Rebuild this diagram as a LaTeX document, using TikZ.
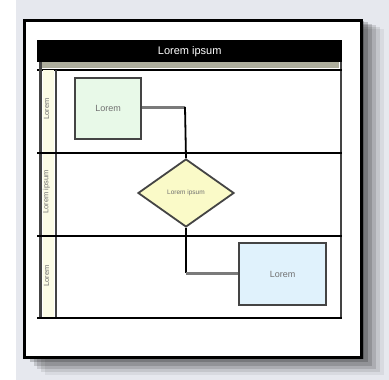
\documentclass[tikz,border=0pt]{standalone}
\usepackage{fontspec}
\setmainfont{Liberation Sans}
\usetikzlibrary{shapes.geometric}
\definecolor{pagebg}{HTML}{E6E8EE}
\definecolor{bandgray}{HTML}{ADAD9C}
\definecolor{cream}{HTML}{FCFCE6}
\definecolor{greenfill}{HTML}{E8F9E8}
\definecolor{yellowfill}{HTML}{FAFAC8}
\definecolor{bluefill}{HTML}{E0F2FC}
\definecolor{edgegray}{HTML}{444444}
\definecolor{linkgray}{HTML}{7A7A7A}
\definecolor{labelgray}{HTML}{707070}
\tikzset{
  procbox/.style={draw=edgegray, line width=2.2pt, inner sep=0pt},
  decision/.style={diamond, draw=edgegray, line width=1.8pt, fill=yellowfill, inner sep=0pt, aspect=1.4},
  boxtext/.style={font=\fontsize{9}{10}\selectfont, text=labelgray},
  lanetext/.style={font=\fontsize{7.5}{8}\selectfont, text=labelgray, rotate=90},
  lanerule/.style={line width=2.2pt, black},
  graylink/.style={line width=3pt, linkgray},
  blacklink/.style={line width=1.8pt, black}
}
\begin{document}
\begin{tikzpicture}[x=1pt, y=-1pt]
  \useasboundingbox (0,0) rectangle (389,380);
  % page background
  \fill[white] (0,0) rectangle (389,380);
  \fill[pagebg] (16,0) rectangle (389,380);
  % soft drop shadow of the sheet
  \foreach \d/\o in {24/0.06,20/0.09,16/0.12,12/0.15,8/0.18,4/0.22}{
    \fill[black, opacity=\o] (23+\d*0.9,19+\d*0.4) rectangle (360+\d,356+\d*0.8);
  }
  % sheet
  \node[draw=black, line width=3pt, fill=white, minimum width=337pt, minimum height=337pt, inner sep=0pt, anchor=north west] (sheet) at (23,19) {};
  % pool frame
  \fill[white] (37,40) rectangle (342,318);
  \draw[line width=2pt, edgegray] (341,40) -- (341,318);
  % title bar
  \node[fill=black, minimum width=305pt, minimum height=22pt, inner sep=0pt, anchor=north west, text=white, font=\fontsize{11}{12}\selectfont] (title) at (37,40) {Lorem ipsum};
  \fill[bandgray] (41,62) rectangle (339,68);
  \draw[lanerule] (37,70) -- (342,70);
  % lane label column
  \fill[cream] (43,70) rectangle (54,318);
  \draw[line width=2.5pt, edgegray] (40.5,62) -- (40.5,318);
  \draw[line width=2.5pt, edgegray] (56,70) -- (56,318);
  % lane separators
  \draw[lanerule] (37,153) -- (342,153);
  \draw[lanerule] (37,236) -- (342,236);
  \draw[lanerule] (37,318) -- (342,318);
  % lane labels
  \node[lanetext] (lab1) at (46.5,109) {Lorem};
  \node[lanetext] (lab2) at (46.5,192) {Lorem ipsum};
  \node[lanetext] (lab3) at (46.5,276) {Lorem};
  % shapes
  \node[procbox, fill=greenfill, minimum width=66pt, minimum height=61pt, anchor=north west, boxtext] (start) at (74,77) {Lorem};
  \node[decision, minimum width=96pt, minimum height=68pt, boxtext, font=\fontsize{6.5}{7}\selectfont] (check) at (186,193) {Lorem ipsum};
  \node[procbox, fill=bluefill, minimum width=87pt, minimum height=62pt, anchor=north west, boxtext] (finish) at (238,242) {Lorem};
  % connectors
  \coordinate (c1) at (185,107);
  \coordinate (c2) at (186,273);
  \draw[graylink] (start.east |- c1) -- (c1);
  \draw[blacklink] (c1) -- (check.north);
  \draw[blacklink] (check.south) -- (c2);
  \draw[graylink] (c2) -- (finish.west |- c2);
\end{tikzpicture}
\end{document}
